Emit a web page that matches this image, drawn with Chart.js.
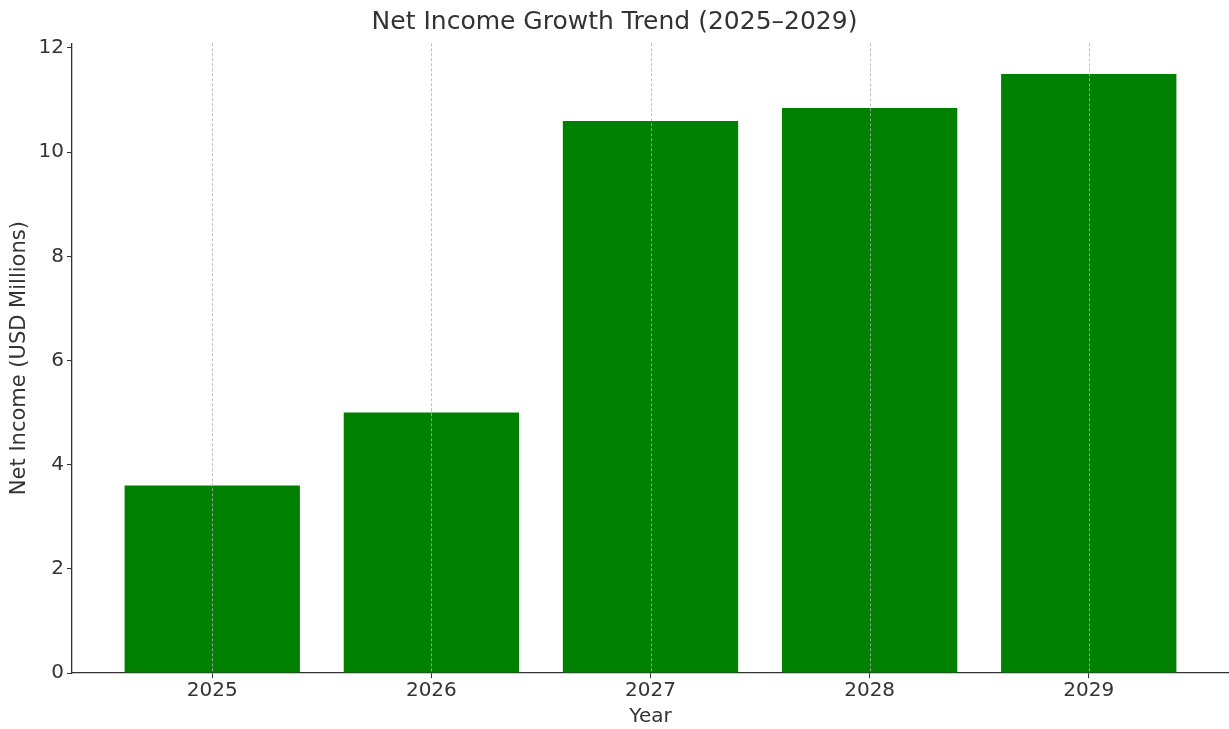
<!DOCTYPE html>
<html>
<head>
<meta charset="utf-8">
<title>Net Income Growth Trend</title>
<script src="https://cdn.jsdelivr.net/npm/chart.js"></script>
<style>
  html, body { margin: 0; padding: 0; background: #fff; }
  #wrap { width: 1229px; height: 729px; }
</style>
</head>
<body>
<div id="wrap"><canvas id="incomeChart" width="1229" height="729"></canvas></div>
<script>
// chart data
const years = ['2025', '2026', '2027', '2028', '2029'];
const netIncome = [3.6, 5.0, 10.6, 10.85, 11.5];
const yTicks = [0, 2, 4, 6, 8, 10, 12];

const textColor = '#333333';
const fontFamily = "'DejaVu Sans', sans-serif";

// dashed vertical grid drawn on top of the bars (like the original)
const gridOnTop = {
    id: 'gridOnTop',
    afterDatasetsDraw(chart) {
        const ctx = chart.ctx;
        const area = chart.chartArea;
        const xScale = chart.scales.x;
        ctx.save();
        ctx.strokeStyle = '#b0b0b0';
        ctx.lineWidth = 0.8;
        ctx.setLineDash([3, 2]);
        xScale.ticks.forEach(t => {
            const px = Math.round(xScale.getPixelForValue(t.value)) + 0.5;
            ctx.beginPath();
            ctx.moveTo(px, area.top);
            ctx.lineTo(px, area.bottom);
            ctx.stroke();
        });
        ctx.restore();
    }
};

new Chart(document.getElementById('incomeChart'), {
    type: 'bar',
    data: {
        datasets: [{
            label: 'Net Income',
            data: years.map((y, i) => ({ x: i, y: netIncome[i] })),
            backgroundColor: '#008000',
            borderWidth: 0,
            barPercentage: 0.8,
            categoryPercentage: 1.0
        }]
    },
    options: {
        responsive: false,
        animation: false,
        layout: { padding: 0 },
        plugins: {
            legend: { display: false },
            tooltip: { enabled: false },
            title: {
                display: true,
                text: 'Net Income Growth Trend (2025\u20132029)',
                color: textColor,
                font: { family: fontFamily, size: 25, weight: 'normal' },
                padding: { top: 7, bottom: 6.3 }
            }
        },
        scales: {
            x: {
                type: 'linear',
                offset: false,
                min: -0.64,
                max: 4.64,
                afterBuildTicks: axis => { axis.ticks = years.map((y, i) => ({ value: i })); },
                afterFit: axis => { axis.height = 56; },
                ticks: {
                    callback: v => years[v],
                    color: textColor,
                    font: { family: fontFamily, size: 20 },
                    padding: 1,
                    maxRotation: 0
                },
                grid: {
                    offset: false,
                    drawOnChartArea: false,
                    drawTicks: true,
                    tickLength: 5,
                    color: textColor
                },
                border: { color: textColor, width: 1.3 },
                title: {
                    display: true,
                    text: 'Year',
                    color: textColor,
                    font: { family: fontFamily, size: 20 },
                    padding: { top: 0, bottom: 0 }
                }
            },
            y: {
                min: 0,
                max: 12.09,
                afterBuildTicks: axis => { axis.ticks = yTicks.map(v => ({ value: v })); },
                afterFit: axis => { axis.width = 72; },
                ticks: {
                    color: textColor,
                    font: { family: fontFamily, size: 20 },
                    padding: 3
                },
                grid: {
                    drawOnChartArea: false,
                    drawTicks: true,
                    tickLength: 5,
                    color: textColor
                },
                border: { color: textColor, width: 1.3 },
                title: {
                    display: true,
                    text: 'Net Income (USD Millions)',
                    color: textColor,
                    font: { family: fontFamily, size: 21 },
                    padding: { top: 7, bottom: 0 }
                }
            }
        }
    },
    plugins: [gridOnTop]
});
</script>
</body>
</html>
